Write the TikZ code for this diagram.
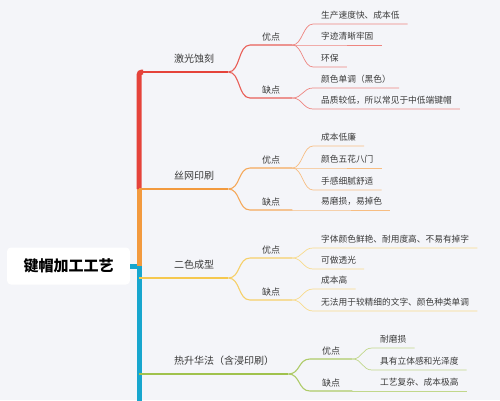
\documentclass[tikz,border=0pt]{standalone}
\usepackage{fontspec}
\setmainfont{Noto Sans CJK SC}
\usepackage{xcolor}
\usepackage{tikz}
\usetikzlibrary{positioning}
\definecolor{PageBg}{HTML}{F4F5F9}
\definecolor{Ink}{HTML}{3A3A3A}
\definecolor{LaserRed}{HTML}{E5433B}
\definecolor{SilkOrange}{HTML}{F29A3E}
\definecolor{DualYellow}{HTML}{F5C84E}
\definecolor{DyeGreen}{HTML}{A0C24D}
\definecolor{SpineBlue}{HTML}{17A6CE}

\begin{document}
\begin{tikzpicture}[x=1pt,y=-1pt,
  root/.style={fill=white,rounded corners=4pt,minimum width=123pt,minimum height=37pt,font=\fontsize{15}{18}\selectfont\bfseries,text=black},
  branch/.style={anchor=south west,inner xsep=14pt,inner ysep=9pt,text depth=0pt,font=\fontsize{10}{12}\selectfont,text=Ink},
  side/.style={anchor=south west,inner xsep=12pt,inner ysep=4.5pt,text depth=0pt,font=\fontsize{9}{11}\selectfont,text=Ink},
  leaf/.style={anchor=south west,inner xsep=8pt,inner ysep=5.4pt,text depth=0pt,font=\fontsize{8.7}{10}\selectfont,text=Ink},
  spine/.style={line width=5pt},
  link/.style={line width=1.1pt},
  twig/.style={line width=0.7pt}
]
\fill[PageBg] (0,0) rectangle (500,400);
\useasboundingbox (0,0) rectangle (500,400);

% root and spine
\node[root] (root) at (68.5,266) {键帽加工工艺};
\coordinate (hub) at (139,266);
\coordinate (sp-laser) at (139,72);
\coordinate (sp-silk) at (139,189);
\coordinate (sp-dual) at (139,278);
\coordinate (sp-dye) at (139,374);
\coordinate (sp-end) at (139,402);
\draw[spine,draw=SpineBlue] (root.east) -- (hub) -- (sp-end);
\draw[spine,draw=SilkOrange] (hub) -- (sp-silk);
\draw[spine,draw=LaserRed,rounded corners=3pt] (sp-silk) |- (143,72);

% branches
\node[branch] (laser) at (160,72) {激光蚀刻};
\node[branch] (silk) at (160,189) {丝网印刷};
\node[branch] (dual) at (160,278) {二色成型};
\node[branch] (dye) at (160,374) {热升华法（含浸印刷）};
\draw[link,draw=LaserRed] (sp-laser) -- (laser.south west) -- (laser.south east);
\draw[link,draw=SilkOrange] (sp-silk) -- (silk.south west) -- (silk.south east);
\draw[link,draw=DualYellow] (sp-dual) -- (dual.south west) -- (dual.south east);
\draw[link,draw=DyeGreen] (sp-dye) -- (dye.south west) -- (dye.south east);

% pros and cons
\node[side] (laser-pro) at (250,45) {优点};
\node[side] (laser-con) at (250,98) {缺点};
\node[side] (silk-pro) at (250,168) {优点};
\node[side] (silk-con) at (250,210) {缺点};
\node[side] (dual-pro) at (250,258) {优点};
\node[side] (dual-con) at (250,300) {缺点};
\node[side] (dye-pro) at (310,359) {优点};
\node[side] (dye-con) at (310,391) {缺点};
\foreach \br/\col in {laser/LaserRed,silk/SilkOrange,dual/DualYellow,dye/DyeGreen}
  \foreach \kind in {pro,con}
    \draw[link,draw=\col!85] (\br.south east) .. controls +(12,0) and +(-12,0) .. (\br-\kind.south west) -- (\br-\kind.south east);

% leaves
\node[leaf] (laser-p1) at (313,24) {生产速度快、成本低};
\node[leaf] (laser-p2) at (313,45) {字迹清晰牢固};
\node[leaf] (laser-p3) at (313,67) {环保};
\node[leaf] (laser-c1) at (313,88) {颜色单调（黑色）};
\node[leaf] (laser-c2) at (313,109) {品质较低，所以常见于中低端键帽};
\node[leaf] (silk-p1) at (313,146) {成本低廉};
\node[leaf] (silk-p2) at (313,168) {颜色五花八门};
\node[leaf] (silk-p3) at (313,190) {手感细腻舒适};
\node[leaf] (silk-c1) at (313,210) {易磨损，易掉色};
\node[leaf] (dual-p1) at (313,248) {字体颜色鲜艳、耐用度高、不易有掉字};
\node[leaf] (dual-p2) at (313,269) {可做透光};
\node[leaf] (dual-c1) at (313,289) {成本高};
\node[leaf] (dual-c2) at (313,311) {无法用于较精细的文字、颜色种类单调};
\node[leaf] (dye-p1) at (372,348) {耐磨损};
\node[leaf] (dye-p2) at (372,370) {具有立体感和光泽度};
\node[leaf] (dye-c1) at (372,391) {工艺复杂、成本极高};
\foreach \up/\kid/\col in {laser-pro/laser-p1/LaserRed,laser-pro/laser-p2/LaserRed,laser-pro/laser-p3/LaserRed,
    laser-con/laser-c1/LaserRed,laser-con/laser-c2/LaserRed,
    silk-pro/silk-p1/SilkOrange,silk-pro/silk-p2/SilkOrange,silk-pro/silk-p3/SilkOrange,silk-con/silk-c1/SilkOrange,
    dual-pro/dual-p1/DualYellow,dual-pro/dual-p2/DualYellow,dual-con/dual-c1/DualYellow,dual-con/dual-c2/DualYellow,
    dye-pro/dye-p1/DyeGreen,dye-pro/dye-p2/DyeGreen,dye-con/dye-c1/DyeGreen}
  \draw[twig,draw=\col!65] (\up.south east) .. controls +(10,0) and +(-10,0) .. (\kid.south west) -- (\kid.south east);
\end{tikzpicture}
\end{document}
